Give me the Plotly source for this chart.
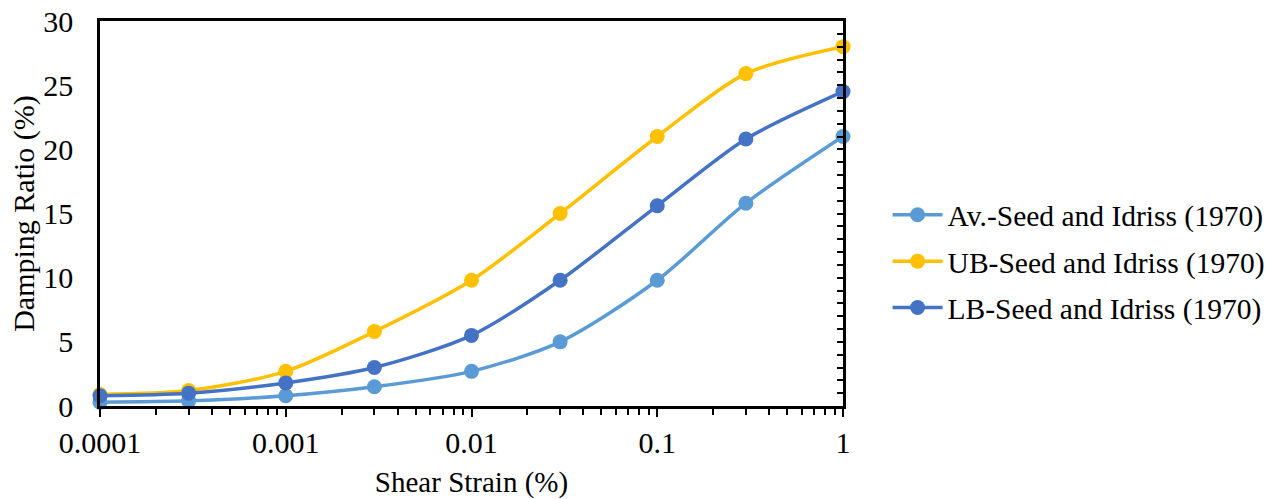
import plotly.graph_objects as go

# Shear strain levels (%) and damping ratio curves (%)
strain = [0.0001, 0.0003, 0.001, 0.003, 0.01, 0.03, 0.1, 0.3, 1]
damping_av = [0.3, 0.4, 0.8, 1.5, 2.7, 5.0, 9.8, 15.8, 21.0]
damping_ub = [0.9, 1.2, 2.7, 5.8, 9.8, 15.0, 21.0, 25.9, 28.0]
damping_lb = [0.8, 1.0, 1.8, 3.0, 5.5, 9.8, 15.6, 20.8, 24.5]

series_names = ["Av.-Seed and Idriss (1970)",
                "UB-Seed and Idriss (1970)",
                "LB-Seed and Idriss (1970)"]
series_colors = ["#5B9BD5", "#FFC000", "#4472C4"]

x_tickvals = [0.0001, 0.001, 0.01, 0.1, 1]
x_ticktext = ["0.0001", "0.001", "0.01", "0.1", "1"]

FONT = "Liberation Serif"

fig = go.Figure()
for name, vals, color in zip(series_names, [damping_av, damping_ub, damping_lb], series_colors):
    fig.add_trace(go.Scatter(
        x=strain, y=vals, name=name, legendgroup=name,
        mode="lines+markers",
        line=dict(color=color, width=3.5, shape="spline", smoothing=0.8),
        marker=dict(color=color, size=15),
        cliponaxis=False,
    ))

# invisible trace so the right-hand frame axis is drawn
fig.add_trace(go.Scatter(x=[0.0001], y=[0], yaxis="y2", mode="markers",
                         marker=dict(opacity=0), showlegend=False, hoverinfo="skip"))

fig.update_layout(
    width=1281, height=499,
    margin=dict(l=100, r=438, t=21, b=93, autoexpand=False),
    paper_bgcolor="white", plot_bgcolor="white",
    font=dict(family=FONT, size=30, color="black"),
    xaxis=dict(
        type="log", range=[-4, 0], automargin=False,
        tickvals=x_tickvals, ticktext=x_ticktext,
        tickfont=dict(family=FONT, size=30),
        ticks="outside", ticklen=8, tickwidth=2, tickcolor="black",
        minor=dict(ticks="outside", ticklen=6, tickwidth=2, tickcolor="black",
                   dtick="D1", showgrid=False),
        showline=True, linecolor="black", linewidth=2.5, mirror=True,
        showgrid=False, zeroline=False,
        title=dict(text="Shear Strain (%)", standoff=18,
                   font=dict(family=FONT, size=29)),
    ),
    yaxis=dict(
        range=[0, 30], dtick=5, automargin=False,
        tickfont=dict(family=FONT, size=30),
        ticks="", ticklabelstandoff=18,
        showline=True, linecolor="black", linewidth=2.5,
        showgrid=False, zeroline=False,
        title=dict(text="Damping Ratio (%)", standoff=0,
                   font=dict(family=FONT, size=30)),
    ),
    yaxis2=dict(
        overlaying="y", side="right", range=[0, 30], dtick=1, automargin=False,
        ticks="inside", ticklen=6, tickwidth=2, tickcolor="black",
        showticklabels=False, showline=True, linecolor="black", linewidth=2.5,
        showgrid=False, zeroline=False,
    ),
    legend=dict(
        x=1.06, xanchor="left", y=0.375, yanchor="middle",
        font=dict(family=FONT, size=29.5),
        tracegroupgap=5, itemwidth=50,
        bgcolor="rgba(0,0,0,0)",
    ),
    showlegend=True,
)

fig.write_html("out.html")
